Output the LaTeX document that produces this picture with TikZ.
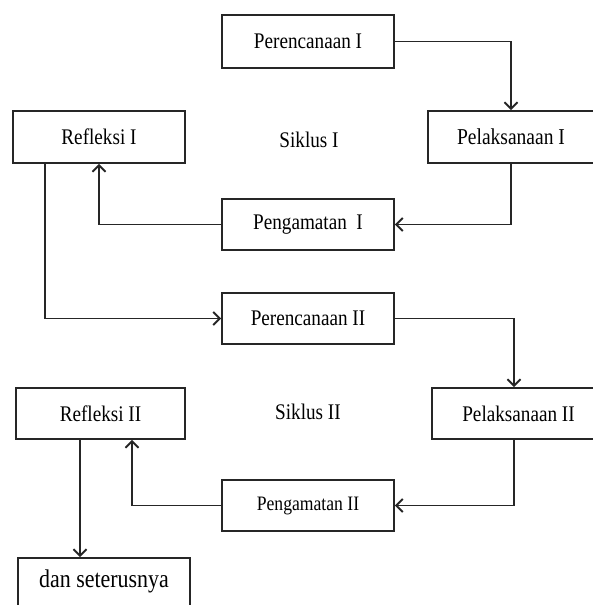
\documentclass[tikz,border=0pt]{standalone}
\usepackage{fontspec}
\setmainfont{Liberation Serif}[FakeStretch=0.86]
\usetikzlibrary{arrows.meta}
\tikzset{
  box/.style={draw=black!85, line width=1.9pt, inner sep=0pt, minimum width=172pt, minimum height=52pt, font=\fontsize{22.3}{24}\selectfont, text=black},
  lbl/.style={inner sep=0pt, font=\fontsize{22.3}{24}\selectfont, text=black},
  conn/.style={draw=black!85, line width=1.9pt, -{Straight Barb[length=6.5pt,width=13pt,line width=1.9pt]}}
}
\begin{document}
\begin{tikzpicture}[x=1pt,y=-1pt]
\useasboundingbox (0,0) rectangle (593,605);
\clip (0,0) rectangle (593,605);
\node[box, minimum height=53pt] (p1) at (308,41.5) {Perencanaan I};
\node[box, minimum width=166pt, font=\fontsize{22.7}{24}\selectfont] (pl1) at (511,137) {Pelaksanaan I};
\node[box] (r1) at (99,137) {Refleksi I};
\node[lbl] (s1) at (309,140) {Siklus I};
\node[box, minimum height=51pt] (g1) at (308,224.5) {Pengamatan\ \ I};
\node[box, minimum height=51pt] (p2) at (308,318.5) {Perencanaan II};
\node[box, minimum width=173pt, minimum height=51pt] (pl2) at (518.5,413.5) {Pelaksanaan II};
\node[box, minimum width=169pt, minimum height=51pt] (r2) at (100.5,413.5) {Refleksi II};
\node[lbl] (s2) at (308,412) {Siklus II};
\node[box, minimum height=51pt, font=\fontsize{20.5}{22}\selectfont] (g2) at (308,505.5) {Pengamatan II};
\node[box, anchor=north, minimum height=0pt, text height=30pt, text depth=30pt, font=\fontsize{25.5}{27}\selectfont] (d) at (104,557) {dan seterusnya};

\draw[conn] (p1.east) -| (pl1.north);
\draw[conn] (pl1.south) |- (g1.east);
\draw[conn] (g1.west) -| (r1.south);
\draw[conn] ([xshift=-54pt]r1.south) |- (p2.west);
\draw[conn] (p2.east) -| ([xshift=-4.5pt]pl2.north);
\draw[conn] ([xshift=-4.5pt]pl2.south) |- (g2.east);
\draw[conn] (g2.west) -| ([xshift=31.5pt]r2.south);
\draw[conn] ([xshift=-20.5pt]r2.south) -- ([xshift=-20.5pt]r2.south |- d.north);
\end{tikzpicture}
\end{document}
